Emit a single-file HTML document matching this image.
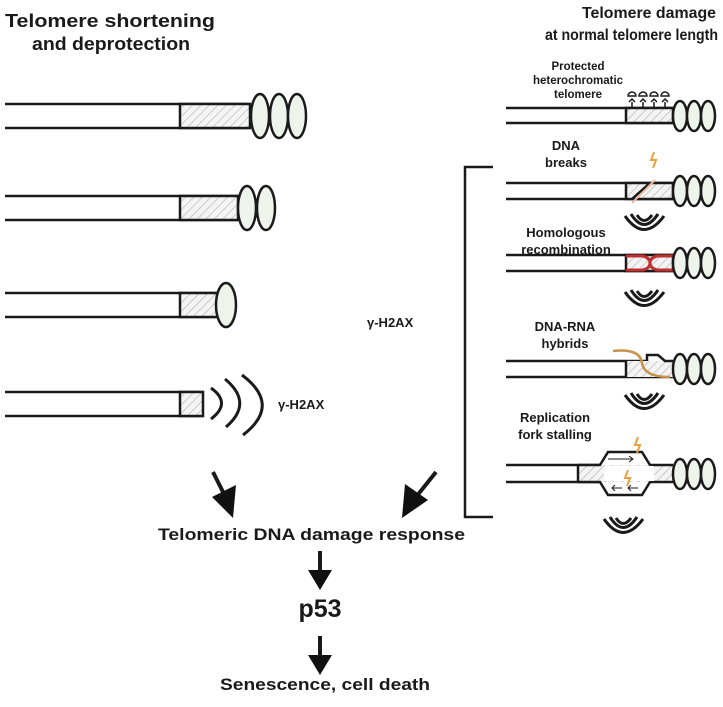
<!DOCTYPE html>
<html><head><style>
html,body{margin:0;padding:0;background:#fff}
svg{display:block}
text{font-family:"Liberation Sans",Arial,sans-serif;font-weight:bold;fill:#1a1a1a}
</style></head><body>
<svg width="723" height="707" viewBox="0 0 723 707" xmlns="http://www.w3.org/2000/svg">
<defs>
<pattern id="h" width="6" height="6" patternUnits="userSpaceOnUse" patternTransform="rotate(45)">
<rect width="6" height="6" fill="#f4f4f4"/><line x1="0" y1="0" x2="0" y2="6" stroke="#bdbdbd" stroke-width="1.5"/>
</pattern>
</defs>
<g stroke="#1a1a1a" stroke-width="2.5" fill="none">
<line x1="5" y1="104" x2="250" y2="104"/><line x1="5" y1="128" x2="250" y2="128"/>
<rect x="180" y="104" width="70" height="24" fill="url(#h)"/>
<g fill="#eef3ec"><ellipse cx="260" cy="116" rx="9" ry="22"/><ellipse cx="279" cy="116" rx="9" ry="22"/><ellipse cx="297" cy="116" rx="9" ry="22"/></g>
<line x1="5" y1="196" x2="238" y2="196"/><line x1="5" y1="220" x2="238" y2="220"/>
<rect x="180" y="196" width="58" height="24" fill="url(#h)"/>
<g fill="#eef3ec"><ellipse cx="247" cy="208" rx="9" ry="22"/><ellipse cx="266" cy="208" rx="9" ry="22"/></g>
<line x1="5" y1="293" x2="218" y2="293"/><line x1="5" y1="317" x2="218" y2="317"/>
<rect x="180" y="293" width="38" height="24" fill="url(#h)"/>
<ellipse cx="226" cy="305" rx="10" ry="22" fill="#eef3ec"/>
<line x1="5" y1="392" x2="203" y2="392"/><line x1="5" y1="416" x2="203" y2="416"/>
<rect x="180" y="392" width="23" height="24" fill="url(#h)"/>
<g stroke-width="3"><path d="M211,388 Q232,403 211,419"/><path d="M225,379 Q254,403 226,427"/><path d="M242,375 Q282,405 243,435"/></g>
<line x1="506" y1="108" x2="673" y2="108"/><line x1="506" y1="123" x2="673" y2="123"/>
<rect x="626" y="108" width="47" height="15" fill="url(#h)"/>
<g stroke-width="1.5"><path d="M632,108v-6M643,108v-6M654,108v-6M665,108v-6M629,102l3,-3 3,3M640,102l3,-3 3,3M651,102l3,-3 3,3M662,102l3,-3 3,3"/>
<path d="M628,96a4,4 0 0 1 8,0zM639,96a4,4 0 0 1 8,0zM650,96a4,4 0 0 1 8,0zM661,96a4,4 0 0 1 8,0z"/></g>
<g fill="#eef3ec"><ellipse cx="680" cy="116" rx="7" ry="15"/><ellipse cx="694" cy="116" rx="7" ry="15"/><ellipse cx="708" cy="116" rx="7" ry="15"/></g>
<line x1="506" y1="183" x2="673" y2="183"/><line x1="506" y1="199" x2="673" y2="199"/>
<rect x="626" y="183" width="47" height="16" fill="url(#h)"/>
<line x1="632" y1="199" x2="650" y2="183"/>
<line x1="632" y1="203" x2="655" y2="180" stroke="#f0b8a0" stroke-width="2"/>
<path d="M654,152l-3,8 5,0 -3,8" stroke="#e8a040" stroke-width="2"/>
<g fill="#eef3ec"><ellipse cx="680" cy="191" rx="7" ry="15"/><ellipse cx="694" cy="191" rx="7" ry="15"/><ellipse cx="708" cy="191" rx="7" ry="15"/></g>
<line x1="506" y1="255" x2="673" y2="255"/><line x1="506" y1="271" x2="673" y2="271"/>
<rect x="626" y="255" width="47" height="16" fill="url(#h)"/>
<path d="M626,256 H643 Q650,258 650,263 Q650,258 657,256 H673 M626,270 H643 Q650,268 650,263 Q650,268 657,270 H673" stroke="#c03030" stroke-width="3"/>
<g fill="#eef3ec"><ellipse cx="680" cy="263" rx="7" ry="15"/><ellipse cx="694" cy="263" rx="7" ry="15"/><ellipse cx="708" cy="263" rx="7" ry="15"/></g>
<line x1="506" y1="361" x2="647" y2="361"/><line x1="506" y1="377" x2="673" y2="377"/>
<rect x="626" y="361" width="47" height="16" fill="url(#h)" stroke="none"/>
<line x1="626" y1="361" x2="626" y2="377"/>
<path d="M647,361 L647,355 L658,355 L665,361 L673,361"/>
<path d="M613,351 Q640,348 642,363 Q644,377 670,377" stroke="#c8924a" stroke-width="2.5"/>
<g fill="#eef3ec"><ellipse cx="680" cy="369" rx="7" ry="15"/><ellipse cx="694" cy="369" rx="7" ry="15"/><ellipse cx="708" cy="369" rx="7" ry="15"/></g>
<line x1="506" y1="465" x2="600" y2="465"/><line x1="506" y1="482" x2="600" y2="482"/>
<rect x="578" y="465" width="95" height="17" fill="url(#h)" stroke="none"/>
<line x1="578" y1="465" x2="578" y2="482"/>
<path d="M578,465 H600 L608,452 H642 L650,465 H673 M578,482 H600 L608,495 H642 L650,482 H673"/>
<rect x="604" y="466" width="50" height="15" fill="#fff" stroke="none"/>
<g stroke-width="1"><path d="M608,459 H633 M629,456 L633,459 629,462"/><path d="M612,488 H622 M615,485 L612,488 615,491 M628,488 H638 M631,485 L628,488 631,491"/></g>
<path d="M638,437l-3,8 5,0 -3,8 M628,470l-3,8 5,0 -3,8" stroke="#e8a040" stroke-width="2"/>
<g fill="#eef3ec"><ellipse cx="680" cy="474" rx="7" ry="15"/><ellipse cx="694" cy="474" rx="7" ry="15"/><ellipse cx="708" cy="474" rx="7" ry="15"/></g>
<g stroke-width="3">
<g><path d="M637,215 Q644,226 652,215"/><path d="M631,214 Q644,235 658,214"/><path d="M625,216 Q644,243 664,216"/></g>
<g transform="translate(0,76)"><path d="M637,215 Q644,226 652,215"/><path d="M631,214 Q644,235 658,214"/><path d="M625,216 Q644,243 664,216"/></g>
<g transform="translate(0,179)"><path d="M637,215 Q644,226 652,215"/><path d="M631,214 Q644,235 658,214"/><path d="M625,216 Q644,243 664,216"/></g>
<g transform="translate(-21,303)"><path d="M637,215 Q644,226 652,215"/><path d="M631,214 Q644,235 658,214"/><path d="M625,216 Q644,243 664,216"/></g>
</g>
<path d="M493,167 H465 V517 H493"/>
<g stroke-width="4"><line x1="213" y1="472" x2="227" y2="500"/><line x1="436" y1="472" x2="416" y2="497"/><line x1="320" y1="551" x2="320" y2="573"/><line x1="320" y1="636" x2="320" y2="658"/></g>
</g>
<g fill="#111">
<polygon points="212,497 236,485 233,518"/>
<polygon points="402,518 405,484 428,500"/>
<polygon points="308,570 332,570 320,590"/>
<polygon points="308,655 332,655 320,675"/>
</g>
<text x="5" y="27" font-size="18" textLength="210" lengthAdjust="spacingAndGlyphs">Telomere shortening</text>
<text x="32" y="50" font-size="18" textLength="158" lengthAdjust="spacingAndGlyphs">and deprotection</text>
<text x="582" y="18" font-size="16" textLength="134" lengthAdjust="spacingAndGlyphs">Telomere damage</text>
<text x="545" y="40" font-size="16" textLength="173" lengthAdjust="spacingAndGlyphs">at normal telomere length</text>
<g text-anchor="middle">
<text x="578" y="70" font-size="11.5">Protected</text>
<text x="578" y="84" font-size="11.5">heterochromatic</text>
<text x="578" y="98" font-size="11.5">telomere</text>
<text x="566" y="150" font-size="13">DNA</text>
<text x="566" y="167" font-size="13">breaks</text>
<text x="566" y="237" font-size="13">Homologous</text>
<text x="566" y="254" font-size="13">recombination</text>
<text x="565" y="331" font-size="13">DNA-RNA</text>
<text x="565" y="348" font-size="13">hybrids</text>
<text x="555" y="422" font-size="13">Replication</text>
<text x="555" y="439" font-size="13">fork stalling</text>
</g>
<text x="278" y="409" font-size="13">γ-H2AX</text>
<text x="367" y="327" font-size="13">γ-H2AX</text>
<text x="158" y="540" font-size="17" textLength="307" lengthAdjust="spacingAndGlyphs">Telomeric DNA damage response</text>
<text x="320" y="617" font-size="25" text-anchor="middle">p53</text>
<text x="220" y="690" font-size="17" textLength="210" lengthAdjust="spacingAndGlyphs">Senescence, cell death</text>
</svg>
</body></html>
